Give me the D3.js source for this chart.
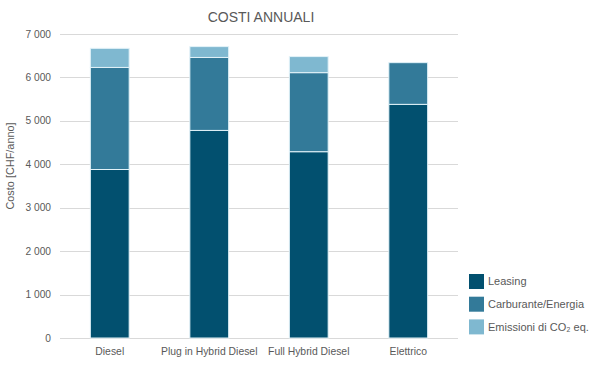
<!DOCTYPE html>
<html>
<head>
<meta charset="utf-8">
<script src="https://cdn.jsdelivr.net/npm/d3@7"></script>
<style>
  body { margin: 0; background: #fff; }
  text { font-family: "Liberation Sans", Arial, sans-serif; fill: #595959; }
</style>
</head>
<body>
<div id="chart"></div>
<script>
// data
var categories = ["Diesel", "Plug in Hybrid Diesel", "Full Hybrid Diesel", "Elettrico"];
var seriesNames = ["Leasing", "Carburante/Energia", "Emissioni di CO\u2082 eq."];
var leasing = [3880, 4780, 4290, 5380];
var carburante = [2350, 1680, 1820, 960];
var emissioni = [440, 250, 370, 0];
var yTicks = [0, 1000, 2000, 3000, 4000, 5000, 6000, 7000];
var colors = ["#02506f", "#337a99", "#7fb8d0"];

var W = 600, H = 372;
var margin = {top: 34, right: 142, bottom: 34, left: 60};

var svg = d3.select("#chart").append("svg")
    .attr("width", W)
    .attr("height", H);

var x = d3.scaleBand()
    .domain(categories)
    .range([margin.left, W - margin.right])
    .paddingInner(0.61)
    .paddingOuter(0.305);

var y = d3.scaleLinear()
    .domain([0, 7000])
    .range([H - margin.bottom, margin.top]);

// build rows for stacking
var rows = categories.map(function(c, i) {
    return {cat: c, s0: leasing[i], s1: carburante[i], s2: emissioni[i]};
});
var stack = d3.stack().keys(["s0", "s1", "s2"]);
var layers = stack(rows);

// gridlines
svg.append("g").selectAll("line")
    .data(yTicks)
    .join("line")
    .attr("x1", margin.left)
    .attr("x2", W - margin.right)
    .attr("y1", function(d) { return Math.round(y(d)) + 0.5; })
    .attr("y2", function(d) { return Math.round(y(d)) + 0.5; })
    .attr("stroke", "#d9d9d9")
    .attr("stroke-width", 1);

// y tick labels
var fmt = function(d) { return d3.format(",")(d).replace(/,/g, " "); };
svg.append("g").selectAll("text")
    .data(yTicks)
    .join("text")
    .attr("x", margin.left - 9)
    .attr("y", function(d) { return y(d); })
    .attr("dy", "0.35em")
    .attr("text-anchor", "end")
    .style("font-size", "10.2px")
    .text(fmt);

// bars
svg.append("g").selectAll("g")
    .data(layers)
    .join("g")
    .attr("fill", function(d, i) { return colors[i]; })
    .selectAll("rect")
    .data(function(d) { return d.filter(function(p) { return p[1] > p[0]; }); })
    .join("rect")
    .attr("x", function(d) { return x(d.data.cat); })
    .attr("y", function(d) { return y(d[1]); })
    .attr("width", x.bandwidth())
    .attr("height", function(d) { return y(d[0]) - y(d[1]); })
    .attr("stroke", "#e2f2f8")
    .attr("stroke-width", 1);

// x labels
svg.append("g").selectAll("text")
    .data(categories)
    .join("text")
    .attr("x", function(d) { return x(d) + x.bandwidth() / 2; })
    .attr("y", H - margin.bottom + 17)
    .attr("text-anchor", "middle")
    .style("font-size", "10.4px")
    .text(function(d) { return d; });

// title
svg.append("text")
    .attr("x", (margin.left + W - margin.right) / 2 + 2)
    .attr("y", 22)
    .attr("text-anchor", "middle")
    .style("font-size", "14px")
    .text("COSTI ANNUALI");

// y axis title
svg.append("text")
    .attr("transform", "translate(14,166) rotate(-90)")
    .attr("text-anchor", "middle")
    .style("font-size", "10.9px")
    .text("Costo [CHF/anno]");

// legend
var legend = svg.append("g")
    .selectAll("g")
    .data(seriesNames)
    .join("g")
    .attr("transform", function(d, i) { return "translate(469," + (274 + i * 22.7) + ")"; });

legend.append("rect")
    .attr("width", 15)
    .attr("height", 15)
    .attr("fill", function(d, i) { return colors[i]; });

legend.append("text")
    .attr("x", 19)
    .attr("y", 7.5)
    .attr("dy", "0.35em")
    .style("font-size", "11px")
    .text(function(d) { return d; });
</script>
</body>
</html>
